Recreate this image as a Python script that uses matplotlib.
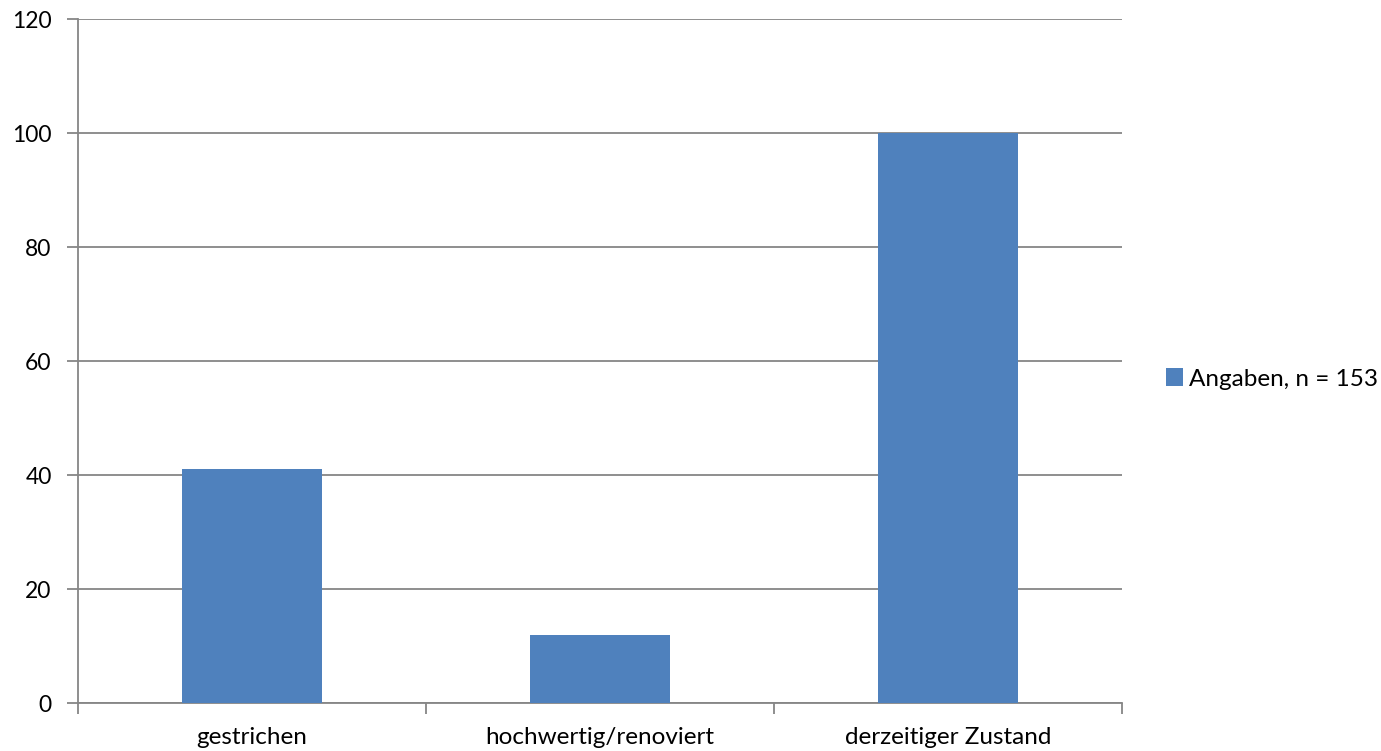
import matplotlib
matplotlib.use("Agg")
import matplotlib.pyplot as plt
from matplotlib.patches import Patch

categories = ["gestrichen", "hochwertig/renoviert", "derzeitiger Zustand"]
values = [41, 12, 100]
series_label = "Angaben, n = 153"
yticks = [0, 20, 40, 60, 80, 100, 120]

bar_color = "#4F81BD"
axis_color = "#868686"

plt.rcParams["font.family"] = ["Lato", "DejaVu Sans"]
fs = 17.5

fig = plt.figure(figsize=(13.81, 7.51), dpi=100)
W, H = 1381, 751
ax = fig.add_axes([78 / W, (H - 703) / H, (1122 - 78) / W, (703 - 19) / H])

x = list(range(len(categories)))
ax.bar(x, values, width=0.4, color=bar_color, zorder=3)

ax.set_xlim(-0.5, len(categories) - 0.5)
ax.set_ylim(0, 120)
ax.set_yticks(yticks)
ax.set_yticklabels([str(v) for v in yticks], fontsize=16.5)
ax.yaxis.grid(True, color=axis_color, linewidth=1.3, zorder=0)
ax.tick_params(axis="y", length=8, width=1.3, color=axis_color, pad=11)

# category labels at centers, tick marks at category boundaries
ax.set_xticks([i - 0.5 for i in range(len(categories) + 1)])
ax.set_xticklabels([])
ax.tick_params(axis="x", length=8, width=1.3, color=axis_color)
ax.set_xticks(x, minor=True)
ax.set_xticklabels(categories, minor=True, fontsize=fs)
ax.tick_params(axis="x", which="minor", length=0, pad=17)

for side in ["top", "right"]:
    ax.spines[side].set_visible(False)
for side in ["left", "bottom"]:
    ax.spines[side].set_color(axis_color)
    ax.spines[side].set_linewidth(1.3)

handle = Patch(facecolor=bar_color, edgecolor="none")
fig.legend([handle], [series_label], loc="center left",
           bbox_to_anchor=(1166 / W, 1 - 379 / H), frameon=False,
           fontsize=fs, handlelength=0.7, handleheight=0.7, handletextpad=0.25,
           borderaxespad=0, borderpad=0)

fig.savefig("out.png", dpi=100, facecolor="white")
